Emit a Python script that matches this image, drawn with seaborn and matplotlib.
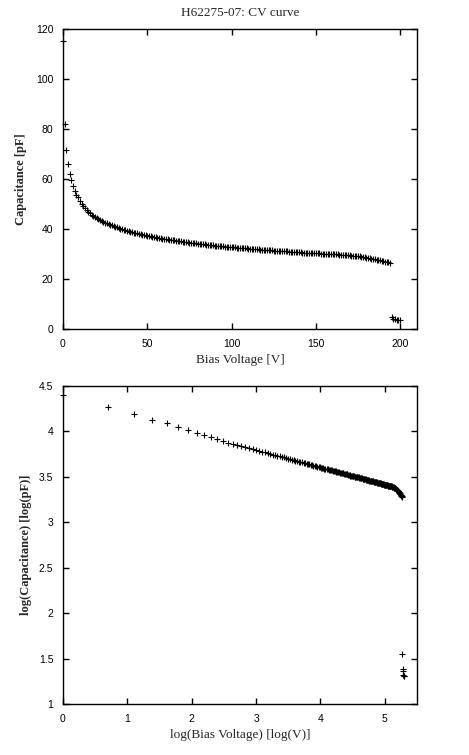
import matplotlib
matplotlib.use("Agg")
import matplotlib.pyplot as plt
import numpy as np
import pandas as pd
import seaborn as sns

# bias voltage steps [V]
voltage = list(range(0, 201))

capacitance = [
    115.0, 82.0, 71.5, 66.2, 62.1, 59.7, 57.3, 55.3, 53.8, 52.7,
    51.2, 50.2, 49.1, 48.3, 47.6, 46.9, 46.4, 45.8, 45.4, 44.9,
    44.5, 44.1, 43.7, 43.4, 43.0, 42.6, 42.3, 42.0, 41.8, 41.5,
    41.2, 41.0, 40.7, 40.5, 40.2, 40.0, 39.8, 39.6, 39.4, 39.2,
    39.0, 38.8, 38.6, 38.5, 38.3, 38.1, 38.0, 37.8, 37.7, 37.5,
    37.4, 37.2, 37.1, 37.0, 36.8, 36.7, 36.6, 36.5, 36.3, 36.2,
    36.1, 36.0, 35.9, 35.8, 35.7, 35.6, 35.5, 35.4, 35.3, 35.2,
    35.1, 35.0, 34.9, 34.8, 34.7, 34.6, 34.5, 34.4, 34.4, 34.3,
    34.2, 34.1, 34.0, 34.0, 33.9, 33.8, 33.7, 33.6, 33.6, 33.5,
    33.4, 33.3, 33.3, 33.2, 33.2, 33.1, 33.0, 33.0, 32.9, 32.9,
    32.8, 32.7, 32.7, 32.6, 32.6, 32.5, 32.4, 32.4, 32.3, 32.3,
    32.2, 32.1, 32.1, 32.0, 32.0, 31.9, 31.9, 31.8, 31.8, 31.7,
    31.7, 31.6, 31.6, 31.5, 31.5, 31.4, 31.4, 31.3, 31.3, 31.2,
    31.2, 31.2, 31.1, 31.1, 31.0, 31.0, 30.9, 30.9, 30.8, 30.8,
    30.7, 30.7, 30.6, 30.6, 30.5, 30.5, 30.5, 30.4, 30.4, 30.3,
    30.3, 30.3, 30.3, 30.2, 30.2, 30.2, 30.1, 30.1, 30.0, 30.0,
    30.0, 30.0, 29.9, 29.9, 29.8, 29.8, 29.7, 29.7, 29.6, 29.6,
    29.5, 29.4, 29.4, 29.3, 29.3, 29.2, 29.1, 29.0, 28.8, 28.7,
    28.6, 28.5, 28.3, 28.2, 28.0, 27.9, 27.8, 27.6, 27.5, 27.3,
    27.2, 27.0, 26.9, 26.7, 26.4, 4.7, 4.0, 3.9, 3.75, 3.7,
    3.7,
]

title = "H62275-07: CV curve"
x_ticks_top = [0, 50, 100, 150, 200]
y_ticks_top = [0, 20, 40, 60, 80, 100, 120]
x_ticks_log = [0, 1, 2, 3, 4, 5]
y_ticks_log = [1, 1.5, 2, 2.5, 3, 3.5, 4, 4.5]

df = pd.DataFrame({"V": voltage, "C": capacitance})
dlog = df[df["V"] > 0].copy()
dlog["logV"] = np.log(dlog["V"])
dlog["logC"] = np.log(dlog["C"])

sns.set_style("ticks")
plt.rcParams["font.family"] = ["Liberation Serif", "DejaVu Serif"]

fig = plt.figure(figsize=(4.69, 7.55), dpi=100)
ax1 = fig.add_axes([0.1343, 0.5642, 0.7548, 0.3974])
ax2 = fig.add_axes([0.1343, 0.0675, 0.7548, 0.4212])

sns.scatterplot(data=df, x="V", y="C", ax=ax1, marker="+", s=18,
                color="black", linewidth=0.8, clip_on=False)
sns.scatterplot(data=dlog, x="logV", y="logC", ax=ax2, marker="+", s=18,
                color="black", linewidth=0.8, clip_on=False)

for ax in (ax1, ax2):
    ax.tick_params(direction="in", length=4, width=1, top=True, right=True,
                   labelsize=7.5, pad=7, colors="black")
    for lab in ax.get_xticklabels() + ax.get_yticklabels():
        lab.set_family(["Liberation Sans", "DejaVu Sans"])
    for sp in ax.spines.values():
        sp.set_linewidth(1)
        sp.set_color("black")
        sp.set_visible(True)

ax1.set_xlim(0, 210)
ax1.set_ylim(0, 120)
ax1.set_xticks(x_ticks_top)
ax1.set_yticks(y_ticks_top)
ax1.set_xticklabels([str(t) for t in x_ticks_top], family="Liberation Sans")
ax1.set_yticklabels([str(t) for t in y_ticks_top], family="Liberation Sans")
ax1.set_xlabel("Bias Voltage [V]", fontsize=9.5, labelpad=4)
ax1.set_ylabel("Capacitance [pF]", fontsize=9, fontweight="bold")
ax1.yaxis.set_label_coords(-0.102, 0.5)
ax1.set_title(title, fontsize=9.5, pad=9)

ax2.set_xlim(0, 5.5)
ax2.set_ylim(1, 4.5)
ax2.set_xticks(x_ticks_log)
ax2.set_yticks(y_ticks_log)
ax2.set_xticklabels([str(t) for t in x_ticks_log], family="Liberation Sans")
ax2.set_yticklabels([f"{t:g}" for t in y_ticks_log], family="Liberation Sans")
ax2.set_xlabel("log(Bias Voltage) [log(V)]", fontsize=9.5, labelpad=4)
ax2.set_ylabel("log(Capacitance) [log(pF)]", fontsize=9, fontweight="bold")
ax2.yaxis.set_label_coords(-0.088, 0.5)

fig.savefig("out.png", dpi=100)
